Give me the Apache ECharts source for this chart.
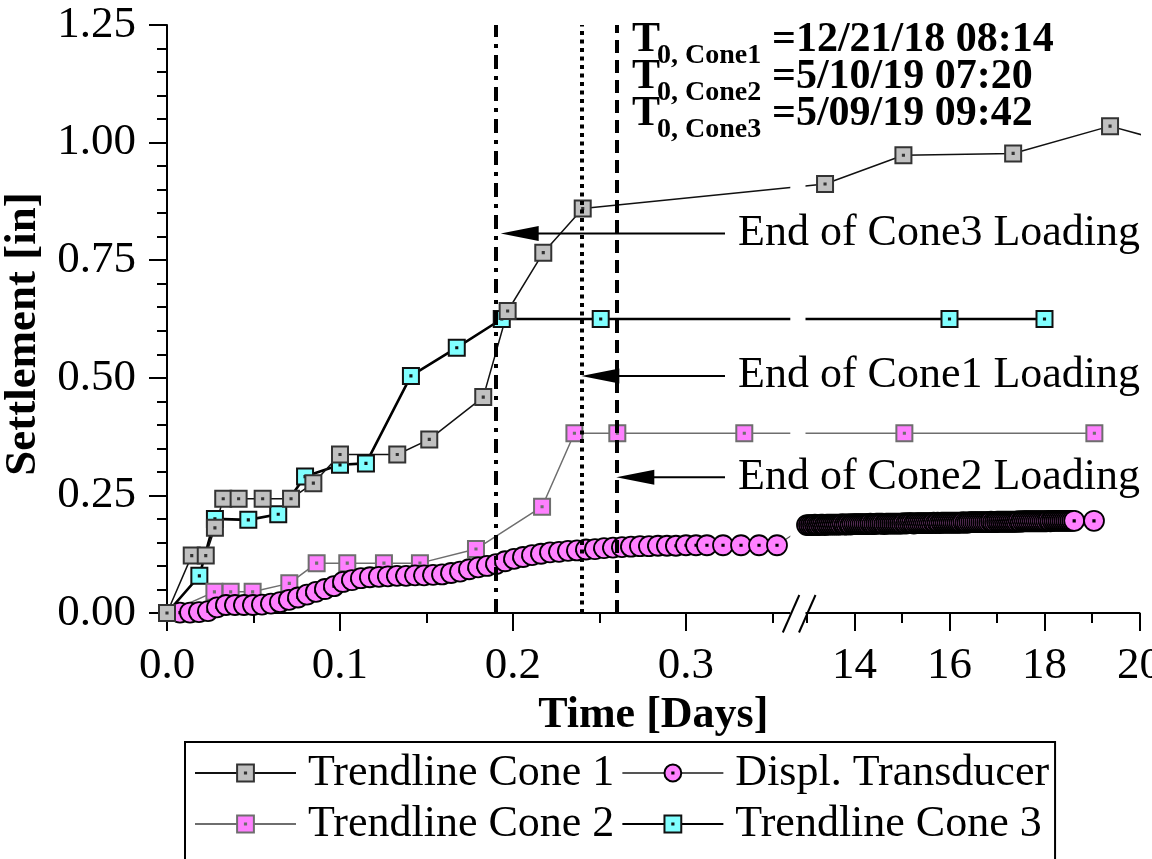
<!DOCTYPE html>
<html>
<head>
<meta charset="utf-8">
<script src="https://cdn.jsdelivr.net/npm/echarts@6.0.0/dist/echarts.min.js"></script>
<style>
  html, body { margin: 0; padding: 0; background: #fff; }
  #chart { width: 1152px; height: 859px; }
</style>
</head>
<body>
<div id="chart"></div>
<script>
// Settlement vs. time for three cone loadings plus the displacement transducer.
// Time is in days since each T0; the axis is broken between 0.36 d and 13 d.

// ---------- data ----------
const cone1Days   = [0, 0.0143, 0.0224, 0.0277, 0.0325, 0.0414, 0.0553, 0.0717, 0.0846, 0.1000, 0.1331, 0.1516, 0.1828, 0.1969, 0.2175, 0.2403, 13.38, 15.03, 17.34, 19.38, 21.0];
const cone1Settle = [0, 0.122, 0.122, 0.181, 0.243, 0.243, 0.243, 0.243, 0.276, 0.337, 0.337, 0.369, 0.459, 0.642, 0.766, 0.860, 0.912, 0.973, 0.977, 1.035, 0.990];

const cone2Days   = [0, 0.0274, 0.0368, 0.0495, 0.0707, 0.0865, 0.1042, 0.1254, 0.1462, 0.1786, 0.2168, 0.2355, 0.2603, 0.3337, 15.05, 19.05];
const cone2Settle = [0, 0.045, 0.045, 0.045, 0.063, 0.106, 0.106, 0.106, 0.106, 0.136, 0.226, 0.382, 0.382, 0.382, 0.382, 0.382];

const cone3Days   = [0, 0.0187, 0.0277, 0.0470, 0.0643, 0.0798, 0.1000, 0.1150, 0.1410, 0.1675, 0.1935, 0.2507, 16.0, 18.0];
const cone3Settle = [0, 0.079, 0.200, 0.198, 0.210, 0.290, 0.315, 0.318, 0.504, 0.564, 0.625, 0.625, 0.625, 0.625];

// Transducer, first hours (days)
const displDaysEarly = [0.0075, 0.0133, 0.0185, 0.0237, 0.0289, 0.0341, 0.0393, 0.0445, 0.0497, 0.0549,
  0.0601, 0.0653, 0.0705, 0.0757, 0.0809, 0.0861, 0.0913, 0.0965, 0.1017, 0.1069,
  0.1121, 0.1173, 0.1225, 0.1277, 0.1329, 0.1382, 0.1434, 0.1486, 0.1538, 0.1590,
  0.1642, 0.1694, 0.1746, 0.1798, 0.1850, 0.1902, 0.1954, 0.2006, 0.2058, 0.2110,
  0.2162, 0.2214, 0.2266, 0.2318, 0.2370, 0.2422, 0.2474, 0.2526, 0.2578, 0.2630,
  0.2682, 0.2734, 0.2786, 0.2838, 0.2890, 0.2942, 0.3000, 0.3058, 0.3121, 0.3214,
  0.3318, 0.3422, 0.3526];
const displSettleEarly = [0.001, 0.001, 0.002, 0.004, 0.012, 0.017, 0.017, 0.017, 0.017, 0.018,
  0.020, 0.023, 0.028, 0.033, 0.039, 0.045, 0.051, 0.057, 0.066, 0.070,
  0.074, 0.076, 0.077, 0.078, 0.079, 0.079, 0.080, 0.080, 0.081, 0.082,
  0.085, 0.088, 0.093, 0.097, 0.100, 0.104, 0.110, 0.115, 0.119, 0.123,
  0.126, 0.129, 0.130, 0.132, 0.133, 0.135, 0.136, 0.138, 0.139, 0.140,
  0.141, 0.142, 0.142, 0.143, 0.143, 0.143, 0.144, 0.144, 0.144, 0.144,
  0.144, 0.144, 0.144];

// Transducer, hourly readings later on (hours since T0)
const displHoursLate = [312, 313, 314, 315, 316, 317, 318, 319, 320, 321, 322, 323,
  324, 325, 326, 327, 328, 329, 330, 331, 332, 333, 334, 335,
  336, 337, 338, 339, 340, 341, 342, 343, 344, 345, 346, 347,
  348, 349, 350, 351, 352, 353, 354, 355, 356, 357, 358, 359,
  360, 361, 362, 363, 364, 365, 366, 367, 368, 369, 370, 371,
  372, 373, 374, 375, 376, 377, 378, 379, 380, 381, 382, 383,
  384, 385, 386, 387, 388, 389, 390, 391, 392, 393, 394, 395,
  396, 397, 398, 399, 400, 401, 402, 403, 404, 405, 406, 407,
  408, 409, 410, 411, 412, 413, 414, 415, 416, 417, 418, 419,
  420, 421, 422, 423, 424, 425, 426, 427, 428, 429, 430, 431,
  432, 433, 434, 435, 436, 437, 438, 439, 440, 441, 442, 443,
  444, 445, 446, 447, 457];
const displSettleLate = [0.187, 0.187, 0.187, 0.187, 0.188, 0.187, 0.187, 0.188, 0.188, 0.187, 0.188, 0.188,
  0.188, 0.188, 0.188, 0.188, 0.188, 0.188, 0.189, 0.188, 0.188, 0.189, 0.188, 0.189,
  0.189, 0.189, 0.189, 0.189, 0.189, 0.189, 0.189, 0.189, 0.190, 0.189, 0.189, 0.190,
  0.190, 0.190, 0.190, 0.189, 0.190, 0.190, 0.190, 0.190, 0.190, 0.190, 0.190, 0.190,
  0.190, 0.191, 0.190, 0.191, 0.191, 0.191, 0.190, 0.191, 0.191, 0.191, 0.191, 0.191,
  0.191, 0.191, 0.191, 0.191, 0.192, 0.191, 0.192, 0.191, 0.192, 0.192, 0.192, 0.192,
  0.192, 0.192, 0.192, 0.192, 0.192, 0.192, 0.192, 0.193, 0.192, 0.192, 0.193, 0.193,
  0.193, 0.193, 0.193, 0.193, 0.193, 0.193, 0.193, 0.193, 0.193, 0.194, 0.193, 0.193,
  0.194, 0.194, 0.194, 0.194, 0.194, 0.194, 0.194, 0.194, 0.194, 0.194, 0.194, 0.195,
  0.194, 0.195, 0.195, 0.195, 0.195, 0.195, 0.195, 0.195, 0.195, 0.195, 0.195, 0.195,
  0.195, 0.195, 0.196, 0.195, 0.196, 0.196, 0.196, 0.196, 0.196, 0.196, 0.196, 0.196,
  0.196, 0.196, 0.196, 0.196, 0.196];

// End of loading for each cone (days) and where its arrow sits (in)
const loadingEndDays  = [0.19405, 0.24064, 0.26087];
const loadingLabels   = ['End of Cone3 Loading', 'End of Cone1 Loading', 'End of Cone2 Loading'];
const arrowSettle     = [0.807, 0.504, 0.2885];

// Reference start times
const t0Subscripts = ['0, Cone1', '0, Cone2', '0, Cone3'];
const t0Values     = ['=12/21/18 08:14', '=5/10/19 07:20', '=5/09/19 09:42'];

// Tick positions (days)
const leftMajorTicks  = [0, 0.1, 0.2, 0.3];
const leftMinorTicks  = [0.05, 0.15, 0.25, 0.35];
const rightMajorTicks = [14, 16, 18, 20];
const rightMinorTicks = [13, 15, 17, 19];

// ---------- broken time axis ----------
const LEFT_END = 0.36;        // last day drawn before the break
const RIGHT_START = 13;       // first day drawn after the break
const BREAK_GAP = 0.00994;    // break width, in left-segment units
const RIGHT_SCALE = 0.027457; // right segment: axis units per day
const AXIS_END_DAY = 20;

function toAxis(t) {
  return t <= LEFT_END ? t : LEFT_END + BREAK_GAP + (t - RIGHT_START) * RIGHT_SCALE;
}
function fromAxis(u) {
  return u <= LEFT_END + 1e-9 ? u : RIGHT_START + (u - LEFT_END - BREAK_GAP) / RIGHT_SCALE;
}
function pairs(days, vals) {
  return days.map((d, i) => [toAxis(d), vals[i]]);
}

const SERIF = '"Liberation Serif", "Times New Roman", Times, serif';
const SQUARE = 'path://M0,0H20V20H0Z M9.3,9.3H10.7V10.7H9.3Z';
const CIRCLE = 'path://M0,10A10,10 0 1,1 20,10A10,10 0 1,1 0,10Z M9.3,9.3H10.7V10.7H9.3Z';

const majorU = leftMajorTicks.concat(rightMajorTicks).map(toAxis);
const minorU = leftMinorTicks.concat(rightMinorTicks).map(toAxis);
const axisMax = toAxis(AXIS_END_DAY);

function tickLabel(u) {
  const t = fromAxis(u);
  return u <= LEFT_END + 1e-9 ? t.toFixed(1) : String(Math.round(t));
}

function lineSeries(name, data, o) {
  return {
    type: 'line', name, data,
    symbol: o.symbol, symbolSize: o.size, symbolKeepAspect: true, showAllSymbol: true,
    itemStyle: { color: o.fill, borderColor: o.border, borderWidth: o.borderWidth },
    lineStyle: { color: o.line, width: o.lineWidth },
    emphasis: { disabled: true },
    clip: o.clip !== undefined ? o.clip : true,
    z: 2, animation: false
  };
}

const dashPatterns = [[14, 7, 4, 7], [4, 4.5], [13, 7]];

const cone3 = lineSeries('Trendline Cone 3', pairs(cone3Days, cone3Settle),
  { symbol: SQUARE, size: 16, fill: '#80ffff', border: '#111', borderWidth: 2, line: '#000', lineWidth: 2.6 });
const cone2 = lineSeries('Trendline Cone 2', pairs(cone2Days, cone2Settle),
  { symbol: SQUARE, size: 16, fill: '#ff80ff', border: '#6e6e6e', borderWidth: 2, line: '#6e6e6e', lineWidth: 1.5 });
const displ = lineSeries('Displ. Transducer',
  pairs(displDaysEarly, displSettleEarly).concat(pairs(displHoursLate.map(h => h / 24), displSettleLate)),
  { symbol: CIRCLE, size: 20, fill: '#ff80ff', border: '#000', borderWidth: 1.8, line: '#555', lineWidth: 1.2 });
const cone1 = lineSeries('Trendline Cone 1', pairs(cone1Days, cone1Settle),
  { symbol: SQUARE, size: 16, fill: '#c0c0c0', border: '#333', borderWidth: 2, line: '#111', lineWidth: 1.5, clip: false });
cone1.markLine = {
  silent: true, symbol: 'none', animation: false, label: { show: false },
  data: loadingEndDays.map((d, i) => ({
    xAxis: toAxis(d),
    lineStyle: { color: '#000', width: 4, type: dashPatterns[i] }
  }))
};

// White mask and "//" marks where the time axis is broken
const breakMask = {
  type: 'custom', coordinateSystem: 'cartesian2d', data: [[LEFT_END, 0]],
  silent: true, clip: false, z: 2, animation: false,
  renderItem(params, api) {
    const a = api.coord([LEFT_END, 0]);
    const b = api.coord([toAxis(RIGHT_START), 1.25]);
    const x0 = a[0] + 0.5, x1 = b[0] - 1.5;
    return {
      type: 'group',
      children: [
        { type: 'rect', shape: { x: x0, y: b[1] - 6, width: x1 - x0, height: a[1] - b[1] + 8 },
          style: { fill: '#fff' }, z2: 50 },
        { type: 'line', shape: { x1: a[0] - 7, y1: a[1] + 19.5, x2: a[0] + 9.5, y2: a[1] - 18 },
          style: { stroke: '#000', lineWidth: 2 }, z2: 200 },
        { type: 'line', shape: { x1: b[0] - 8, y1: a[1] + 19.5, x2: b[0] + 8.5, y2: a[1] - 18 },
          style: { stroke: '#000', lineWidth: 2 }, z2: 200 }
      ]
    };
  }
};

const chart = echarts.init(document.getElementById('chart'), null, { renderer: 'canvas' });

chart.setOption({
  animation: false,
  backgroundColor: '#fff',
  grid: { left: 167, top: 25, right: 12.5, bottom: 246, containLabel: false, outerBoundsMode: 'none' },
  legend: {
    data: ['Trendline Cone 1', 'Displ. Transducer', 'Trendline Cone 2', 'Trendline Cone 3'],
    left: 185, top: 742, width: 900, orient: 'horizontal',
    itemWidth: 101, itemHeight: 21, itemGap: 7,
    padding: [9, 6, 40, 9],
    borderColor: '#000', borderWidth: 2,
    selectedMode: false,
    textStyle: { fontFamily: SERIF, fontSize: 44, color: '#000', padding: [0, 0, 0, 7] }
  },
  xAxis: [
    {
      type: 'value', min: 0, max: axisMax, position: 'bottom',
      axisLine: { show: true, onZero: false, lineStyle: { color: '#000', width: 2 } },
      axisTick: { show: true, inside: false, length: 18, lineStyle: { color: '#000', width: 2 }, customValues: majorU },
      axisLabel: { show: true, customValues: majorU, margin: 31, color: '#000', fontFamily: SERIF, fontSize: 45, formatter: tickLabel },
      splitLine: { show: false },
      name: 'Time [Days]', nameLocation: 'middle', nameGap: 73,
      nameTextStyle: { fontFamily: SERIF, fontWeight: 'bold', fontSize: 44, color: '#000' }
    },
    {
      type: 'value', min: 0, max: axisMax, position: 'bottom',
      axisLine: { show: false },
      axisTick: { show: true, inside: false, length: 10, lineStyle: { color: '#000', width: 2 }, customValues: minorU },
      axisLabel: { show: false },
      splitLine: { show: false }
    }
  ],
  yAxis: {
    type: 'value', min: 0, max: 1.25, interval: 0.25,
    axisLine: { show: true, lineStyle: { color: '#000', width: 2 } },
    axisTick: { show: true, inside: false, length: 18, lineStyle: { color: '#000', width: 2 } },
    minorTick: { show: true, splitNumber: 5, length: 10, lineStyle: { color: '#000', width: 2 } },
    axisLabel: { margin: 31, color: '#000', fontFamily: SERIF, fontSize: 45, formatter: v => v.toFixed(2) },
    splitLine: { show: false }, minorSplitLine: { show: false },
    name: 'Settlement [in]', nameLocation: 'middle', nameGap: 105, nameRotate: 90,
    nameTextStyle: { fontFamily: SERIF, fontWeight: 'bold', fontSize: 45, color: '#000', padding: [0, 30, 0, 0] }
  },
  series: [cone3, cone2, displ, cone1, breakMask]
});

// Annotations: loading-end arrows and the T0 block
const px = (u, v) => chart.convertToPixel({ xAxisIndex: 0, yAxisIndex: 0 }, [u, v]);
const TEXT_X = 738;
const annotations = [];
loadingLabels.forEach((label, i) => {
  const p = px(toAxis(loadingEndDays[i]), arrowSettle[i]);
  const tipX = p[0] - 2, y = p[1];
  annotations.push({ type: 'line', z: 10, shape: { x1: tipX + 30, y1: y, x2: TEXT_X - 13, y2: y },
    style: { stroke: '#000', lineWidth: 2 } });
  annotations.push({ type: 'polygon', z: 10, shape: { points: [[tipX, y], [tipX + 38, y - 7.5], [tipX + 38, y + 7.5]] },
    style: { fill: '#000' } });
  annotations.push({ type: 'text', z: 10, x: TEXT_X, y: y,
    style: { text: label, font: '44px ' + SERIF, fill: '#000', textAlign: 'left', textVerticalAlign: 'middle', align: 'left', verticalAlign: 'middle' } });
});
t0Subscripts.forEach((sub, i) => {
  const dy = 37 * i;
  annotations.push({ type: 'text', z: 10, x: 632, y: 40 + dy,
    style: { text: 'T', font: 'bold 42px ' + SERIF, fill: '#000', textAlign: 'left', textVerticalAlign: 'middle', align: 'left', verticalAlign: 'middle' } });
  annotations.push({ type: 'text', z: 10, x: 657, y: 56 + dy,
    style: { text: sub, font: 'bold 28px ' + SERIF, fill: '#000', textAlign: 'left', textVerticalAlign: 'middle', align: 'left', verticalAlign: 'middle' } });
  annotations.push({ type: 'text', z: 10, x: 772, y: 40 + dy,
    style: { text: t0Values[i], font: 'bold 42px ' + SERIF, fill: '#000', textAlign: 'left', textVerticalAlign: 'middle', align: 'left', verticalAlign: 'middle' } });
});
chart.setOption({ graphic: { elements: annotations } });
</script>
</body>
</html>
